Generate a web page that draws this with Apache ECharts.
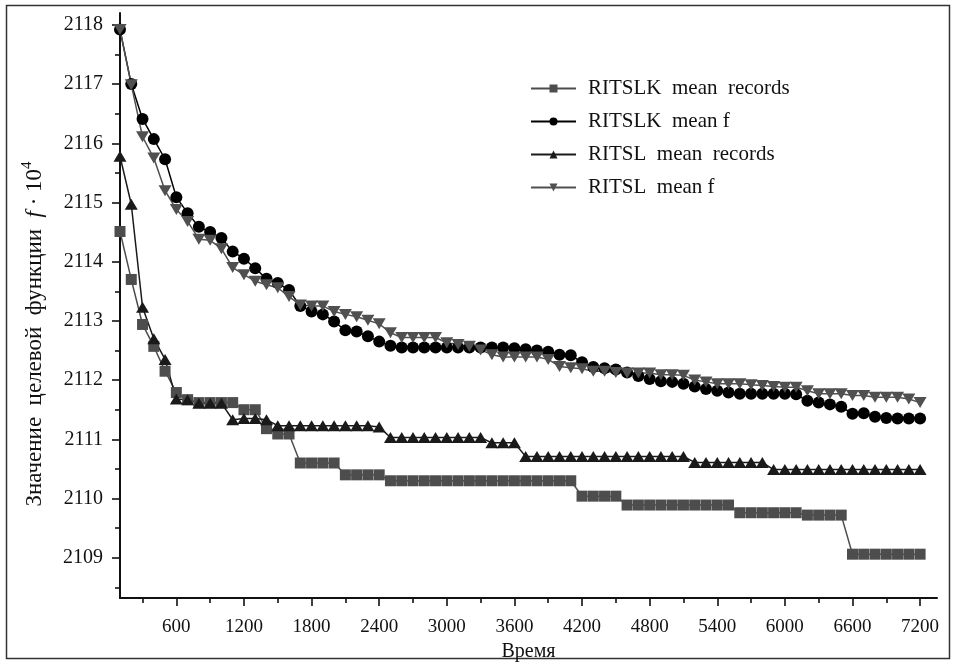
<!DOCTYPE html>
<html><head><meta charset="utf-8">
<script src="https://cdn.jsdelivr.net/npm/echarts@6/dist/echarts.min.js"></script>
<style>html,body{margin:0;padding:0;background:#fff}#c{width:955px;height:664px}</style>
</head><body><div id="c"></div>
<script>
// ---- data ----
const times = [100,200,300,400,500,600,700,800,900,1000,1100,1200,1300,1400,1500,1600,1700,1800,1900,2000,
  2100,2200,2300,2400,2500,2600,2700,2800,2900,3000,3100,3200,3300,3400,3500,3600,3700,3800,3900,4000,
  4100,4200,4300,4400,4500,4600,4700,4800,4900,5000,5100,5200,5300,5400,5500,5600,5700,5800,5900,6000,
  6100,6200,6300,6400,6500,6600,6700,6800,6900,7000,7100,7200];

const seriesNames = ['RITSLK  mean  records', 'RITSLK  mean f', 'RITSL  mean  records', 'RITSL  mean f'];

const recK = [2114.51,2113.70,2112.94,2112.57,2112.15,2111.79,2111.67,2111.62,2111.62,2111.62,
  2111.62,2111.50,2111.50,2111.18,2111.09,2111.09,2110.60,2110.60,2110.60,2110.60,
  2110.40,2110.40,2110.40,2110.40,2110.30,2110.30,2110.30,2110.30,2110.30,2110.30,
  2110.30,2110.30,2110.30,2110.30,2110.30,2110.30,2110.30,2110.30,2110.30,2110.30,
  2110.30,2110.04,2110.04,2110.04,2110.04,2109.89,2109.89,2109.89,2109.89,2109.89,
  2109.89,2109.89,2109.89,2109.89,2109.89,2109.76,2109.76,2109.76,2109.76,2109.76,
  2109.76,2109.72,2109.72,2109.72,2109.72,2109.06,2109.06,2109.06,2109.06,2109.06,
  2109.06,2109.06];

const fK = [2117.92,2117.00,2116.41,2116.07,2115.73,2115.09,2114.82,2114.59,2114.50,2114.40,
  2114.17,2114.05,2113.89,2113.71,2113.64,2113.52,2113.25,2113.16,2113.11,2112.99,
  2112.84,2112.82,2112.74,2112.65,2112.58,2112.55,2112.55,2112.55,2112.55,2112.55,
  2112.55,2112.55,2112.55,2112.55,2112.55,2112.54,2112.52,2112.50,2112.48,2112.43,
  2112.42,2112.30,2112.22,2112.20,2112.18,2112.13,2112.07,2112.02,2111.98,2111.97,
  2111.94,2111.89,2111.85,2111.82,2111.79,2111.77,2111.77,2111.77,2111.77,2111.77,
  2111.76,2111.65,2111.62,2111.59,2111.55,2111.43,2111.44,2111.38,2111.36,2111.35,
  2111.35,2111.35];

const recL = [2115.78,2114.97,2113.23,2112.70,2112.35,2111.68,2111.67,2111.61,2111.61,2111.61,
  2111.33,2111.35,2111.35,2111.33,2111.23,2111.23,2111.23,2111.23,2111.23,2111.23,
  2111.23,2111.23,2111.23,2111.21,2111.03,2111.03,2111.03,2111.03,2111.03,2111.03,
  2111.03,2111.03,2111.03,2110.94,2110.94,2110.94,2110.71,2110.71,2110.71,2110.71,
  2110.71,2110.71,2110.71,2110.71,2110.71,2110.71,2110.71,2110.71,2110.71,2110.71,
  2110.71,2110.61,2110.61,2110.61,2110.61,2110.61,2110.61,2110.61,2110.49,2110.49,
  2110.49,2110.49,2110.49,2110.49,2110.49,2110.49,2110.49,2110.49,2110.49,2110.49,
  2110.49,2110.49];

const fL = [2117.92,2116.99,2116.11,2115.75,2115.20,2114.88,2114.68,2114.38,2114.36,2114.22,
  2113.90,2113.78,2113.67,2113.61,2113.56,2113.41,2113.27,2113.25,2113.25,2113.16,
  2113.11,2113.07,2113.01,2112.95,2112.80,2112.72,2112.72,2112.72,2112.72,2112.63,
  2112.60,2112.57,2112.51,2112.43,2112.39,2112.39,2112.39,2112.39,2112.35,2112.23,
  2112.21,2112.19,2112.15,2112.15,2112.13,2112.12,2112.12,2112.12,2112.09,2112.09,
  2112.08,2112.00,2111.97,2111.94,2111.94,2111.94,2111.92,2111.91,2111.89,2111.88,
  2111.88,2111.82,2111.77,2111.77,2111.77,2111.74,2111.74,2111.71,2111.71,2111.71,
  2111.68,2111.62];

const xMajorTicks = [600,1200,1800,2400,3000,3600,4200,4800,5400,6000,6600,7200];
const xMinorTicks = [300,900,1500,2100,2700,3300,3900,4500,5100,5700,6300,6900];
const yMajorTicks = [2109,2110,2111,2112,2113,2114,2115,2116,2117,2118];
const yMinorTicks = [2108.5,2109.5,2110.5,2111.5,2112.5,2113.5,2114.5,2115.5,2116.5,2117.5];

const xName = 'Время';
const yNameText = 'Значение  целевой  функции  ';

// ---- chart ----
const FONT = 'Liberation Serif';
const X_MIN = 100, X_MAX = 7350, Y_MIN = 2108.32, Y_MAX = 2118.2;
const pairs = vals => times.map((t, i) => [t, vals[i]]);
const plain = v => String(Math.round(v));

const chart = echarts.init(document.getElementById('c'), null, {renderer: 'canvas'});
const axisCommonX = {type: 'value', min: X_MIN, max: X_MAX, splitLine: {show: false}};
const axisCommonY = {type: 'value', min: Y_MIN, max: Y_MAX, splitLine: {show: false}};

chart.setOption({
  animation: false,
  backgroundColor: '#fff',
  textStyle: {fontFamily: FONT},
  grid: {left: 120, right: 18, top: 13, bottom: 66, containLabel: false, outerBoundsMode: 'none'},
  xAxis: [
    Object.assign({}, axisCommonX, {
      position: 'bottom',
      name: xName, nameLocation: 'middle', nameGap: 41,
      nameTextStyle: {fontFamily: FONT, fontSize: 20, color: '#111'},
      axisLine: {show: true, lineStyle: {color: '#111', width: 2}},
      axisTick: {show: true, inside: false, length: 8, lineStyle: {color: '#111', width: 1.6}, customValues: xMajorTicks},
      axisLabel: {show: true, margin: 20, fontFamily: FONT, fontSize: 19, color: '#111', customValues: xMajorTicks, formatter: plain}
    }),
    Object.assign({}, axisCommonX, {
      position: 'bottom',
      axisLine: {show: false},
      axisTick: {show: true, inside: false, length: 5, lineStyle: {color: '#111', width: 1.6}, customValues: xMinorTicks},
      axisLabel: {show: false}
    })
  ],
  yAxis: [
    Object.assign({}, axisCommonY, {
      position: 'left',
      axisLine: {show: true, lineStyle: {color: '#111', width: 2}},
      axisTick: {show: true, inside: false, length: 8, lineStyle: {color: '#111', width: 1.6}, customValues: yMajorTicks},
      axisLabel: {show: true, margin: 17, fontFamily: FONT, fontSize: 20, color: '#111', customValues: yMajorTicks, formatter: plain}
    }),
    Object.assign({}, axisCommonY, {
      position: 'left',
      axisLine: {show: false},
      axisTick: {show: true, inside: false, length: 5, lineStyle: {color: '#111', width: 1.6}, customValues: yMinorTicks},
      axisLabel: {show: false}
    })
  ],
  legend: {
    orient: 'vertical', left: 530, top: 78, padding: 0,
    itemWidth: 45, itemHeight: 10, itemGap: 12,
    textStyle: {fontFamily: FONT, fontSize: 21, color: '#111', padding: [0, 0, 0, 7]},
    data: seriesNames
  },
  series: [
    {name: seriesNames[0], type: 'line', data: pairs(recK), symbol: 'rect', symbolSize: 11,
      itemStyle: {color: '#4d4d4d'}, lineStyle: {color: '#4d4d4d', width: 1.5}},
    {name: seriesNames[1], type: 'line', data: pairs(fK), symbol: 'circle', symbolSize: 12,
      itemStyle: {color: '#000'}, lineStyle: {color: '#000', width: 1.5}},
    {name: seriesNames[2], type: 'line', data: pairs(recL), symbol: 'triangle', symbolSize: [13, 11],
      itemStyle: {color: '#1a1a1a'}, lineStyle: {color: '#1a1a1a', width: 1.5}},
    {name: seriesNames[3], type: 'line', data: pairs(fL), symbol: 'triangle', symbolRotate: 180, symbolSize: [13, 11],
      itemStyle: {color: '#505050'}, lineStyle: {color: '#505050', width: 1.5}}
  ],
  graphic: [
    {type: 'rect', shape: {x: 6.5, y: 5.5, width: 943, height: 653}, style: {fill: 'none', stroke: '#333', lineWidth: 1.5}, silent: true},
    {type: 'text', x: 33, y: 334, rotation: Math.PI / 2,
      style: {
        text: '{a|' + yNameText + '}{i|f}{a| · 10}{s|4}',
        align: 'center', verticalAlign: 'middle', fill: '#111',
        rich: {
          a: {fontFamily: FONT, fontSize: 23, fill: '#111', lineHeight: 26, verticalAlign: 'bottom'},
          i: {fontFamily: FONT, fontSize: 23, fontStyle: 'italic', fill: '#111', lineHeight: 26, verticalAlign: 'bottom'},
          s: {fontFamily: FONT, fontSize: 15, fill: '#111', lineHeight: 26, verticalAlign: 'top'}
        }
      }
    }
  ]
});
</script>
</body></html>
